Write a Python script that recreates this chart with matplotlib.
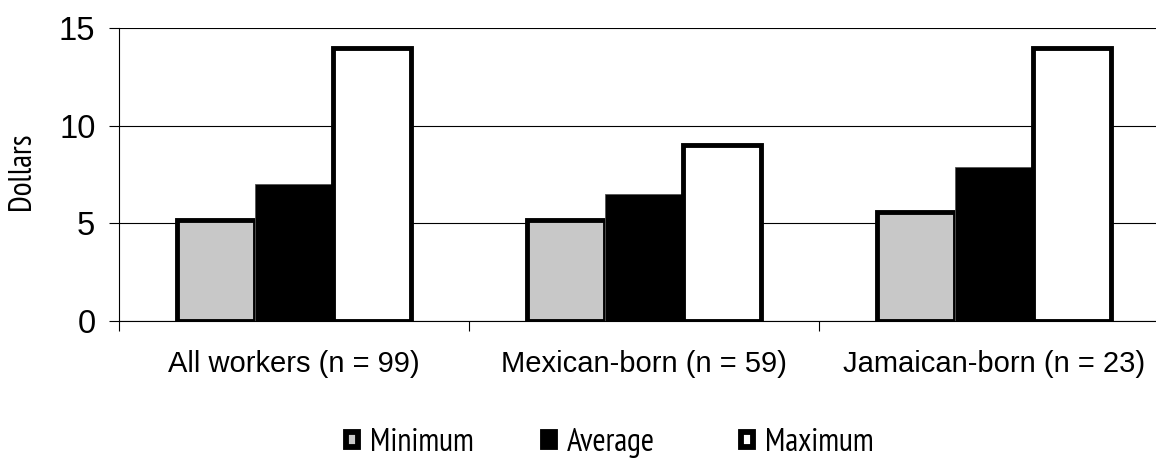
import matplotlib
matplotlib.use("Agg")
import matplotlib.pyplot as plt
import numpy as np
from matplotlib.patches import Patch

# Hourly wage by group
groups = ["All workers (n = 99)", "Mexican-born (n = 59)", "Jamaican-born (n = 23)"]
minimum = [5.15, 5.15, 5.60]
average = [7.00, 6.50, 7.90]
maximum = [14.00, 9.00, 14.00]
series_names = ["Minimum", "Average", "Maximum"]
y_ticks = [0, 5, 10, 15]

plt.rcParams['font.family'] = ['Liberation Sans', 'DejaVu Sans']
narrow = ['PT Sans Narrow', 'Roboto Condensed', 'Liberation Sans', 'DejaVu Sans']

W, H = 1156, 459
fig = plt.figure(figsize=(W / 100, H / 100), dpi=100)
ax = fig.add_axes([119 / W, 1 - 321 / H, 1050 / W, 293 / H])

x = np.arange(len(groups)) + 0.5
w = 1 / 4.5  # three bars plus a 150% gap per category
faces = ["#c8c8c8", "black", "white"]

ax.bar(x - w, minimum, w, color=faces[0], edgecolor="black", linewidth=3.5, zorder=2)
ax.bar(x, average, w, color=faces[1], edgecolor="#555555", linewidth=0.6, zorder=3)
ax.bar(x + w, maximum, w, color=faces[2], edgecolor="black", linewidth=3.5, zorder=4)

ax.set_xlim(0, len(groups))
ax.set_ylim(0, 15)
ax.set_yticks(y_ticks)
ax.yaxis.grid(True, color="black", linewidth=0.8, zorder=0)
ax.set_axisbelow(True)

# category boundaries get the ticks, names sit centred between them
ax.set_xticks(np.arange(len(groups) + 1))
ax.set_xticklabels([])
ax.set_xticks(x, minor=True)
ax.set_xticklabels(groups, minor=True, fontsize=21)
ax.tick_params(axis="x", which="major", direction="out", length=7, width=0.8)
ax.tick_params(axis="x", which="minor", length=0, pad=21)
ax.tick_params(axis="y", direction="out", length=7, width=0.8, labelsize=23.5, pad=10)

for s in ["top", "right"]:
    ax.spines[s].set_visible(False)
ax.spines["left"].set_linewidth(0.8)
ax.spines["bottom"].set_linewidth(0.8)

fig.text(22 / W, 1 - 171 / H, "Dollars", rotation=90, ha="center", va="center",
         fontsize=23, family=narrow)

# evenly spaced legend entries, one small legend each
legend_left = [346, 543, 741]
for name, face, left in zip(series_names, faces, legend_left):
    handle = Patch(facecolor=face, edgecolor="black", linewidth=4.2)
    leg = fig.legend([handle], [name], loc="center left", bbox_to_anchor=(left / W, 1 - 443 / H),
                     frameon=False, prop={"family": narrow, "size": 23},
                     borderpad=0, borderaxespad=0,
                     handlelength=0.38, handleheight=0.38, handletextpad=0.38)

fig.savefig("out.png", dpi=100)
